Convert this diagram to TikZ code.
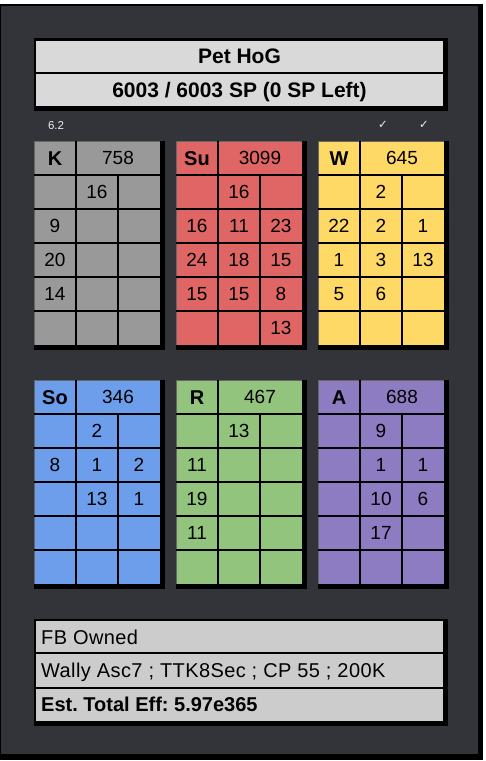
\documentclass[tikz,border=0pt]{standalone}
\usepackage{fontspec}
\setmainfont{Liberation Sans}
\newfontfamily\symfont{DejaVu Sans}
\newfontfamily\infofont[LetterSpace=2]{Liberation Sans}
\frenchspacing

\definecolor{panel}{RGB}{51,52,58}
\definecolor{headfill}{RGB}{217,217,217}
\definecolor{infofill}{RGB}{204,204,204}
\definecolor{kgray}{RGB}{153,153,153}
\definecolor{sured}{RGB}{224,102,102}
\definecolor{wyellow}{RGB}{255,217,102}
\definecolor{soblue}{RGB}{109,158,235}
\definecolor{rgreen}{RGB}{147,196,125}
\definecolor{apurple}{RGB}{142,124,195}

\tikzset{
  cellline/.style={black,line width=2pt},
  edgegray/.style={gray!80!black,line width=1.4pt},
  cellnum/.style={font=\fontsize{19}{19}\selectfont,text height=13.6pt,text depth=0pt,inner sep=0pt},
  celltag/.style={font=\fontsize{20}{20}\selectfont\bfseries,text height=14.3pt,text depth=0pt,inner sep=0pt},
  headtxt/.style={font=\fontsize{21}{21}\selectfont\bfseries,text height=15pt,text depth=0pt,inner sep=0pt},
  infotxt/.style={font=\fontsize{20}{20}\selectfont\infofont,text height=14.3pt,text depth=0pt,inner sep=0pt,anchor=west},
  smalltxt/.style={font=\fontsize{11.5}{11.5}\selectfont,text=white!85!gray,inner sep=0pt}
}

% one coloured block: name, x, y, colour, tag, total, cells (col/row/value)
\newcommand{\petblock}[7]{%
  \begin{scope}[shift={(#2,#3)}]
    \fill[black] (0,0) rectangle (131,209);
    \fill[#4] (0,0) rectangle (126,204);
    \draw[edgegray] (0.7,204) -- (0.7,0.7) -- (126,0.7);
    \foreach \r in {1,...,5} \draw[cellline] (0,34*\r) -- (126,34*\r);
    \draw[cellline] (42,0) -- (42,204);
    \draw[cellline] (84,34) -- (84,204);
    \node[celltag] (#1-tag) at (21,17) {#5};
    \node[cellnum] (#1-sum) at (84,17) {#6};
    \foreach \c/\r/\v in {#7}
      \node[cellnum] (#1-\c-\r) at (42*\c-21,34*\r+17) {\v};
  \end{scope}}

\begin{document}
\begin{tikzpicture}[x=1pt,y=-1pt]

\useasboundingbox (0,0) rectangle (486,761);
\fill[white] (0,0) rectangle (486,761);
\fill[black] (0,4) rectangle (483,760);
\fill[panel] (1,5.5) rectangle (477.7,754.3);

% title box
\fill[black] (34,38) rectangle (448,111);
\fill[headfill] (36,40.5) rectangle (443.3,106);
\draw[cellline] (36,72.5) -- (443.3,72.5);
\node[headtxt] (title) at (239.5,55.8) {Pet HoG};
\node[headtxt] (points) at (239.5,89.8) {6003 / 6003 SP (0 SP Left)};

\node[smalltxt] (ver) at (56,126) {6.2};
\node[smalltxt] (tickA) at (383,125) {\symfont ✓};
\node[smalltxt] (tickB) at (424,125) {\symfont ✓};

\petblock{k}{34}{141}{kgray}{K}{758}{2/1/16, 1/2/9, 1/3/20, 1/4/14}
\petblock{su}{176}{141}{sured}{Su}{3099}{2/1/16, 1/2/16, 2/2/11, 3/2/23, 1/3/24, 2/3/18, 3/3/15, 1/4/15, 2/4/15, 3/4/8, 3/5/13}
\petblock{w}{318}{141}{wyellow}{W}{645}{2/1/2, 1/2/22, 2/2/2, 3/2/1, 1/3/1, 2/3/3, 3/3/13, 1/4/5, 2/4/6}
\petblock{so}{34}{380}{soblue}{So}{346}{2/1/2, 1/2/8, 2/2/1, 3/2/2, 2/3/13, 3/3/1}
\petblock{r}{176}{380}{rgreen}{R}{467}{2/1/13, 1/2/11, 1/3/19, 1/4/11}
\petblock{a}{318}{380}{apurple}{A}{688}{2/1/9, 2/2/1, 3/2/1, 2/3/10, 3/3/6, 2/4/17}

% info box
\fill[black] (34,619) rectangle (448,726);
\fill[infofill] (36,621) rectangle (443.3,720.7);
\draw[cellline] (36,653.3) -- (443.3,653.3);
\draw[cellline] (36,687.7) -- (443.3,687.7);
\node[infotxt] (owned) at (41,637) {FB Owned};
\node[infotxt] (setup) at (41,670.5) {Wally Asc7 ; TTK8Sec ; CP 55 ; 200K};
\node[infotxt,font=\fontsize{20}{20}\selectfont\bfseries] (eff) at (41,704.7) {Est. Total Eff: 5.97e365};

\end{tikzpicture}
\end{document}
